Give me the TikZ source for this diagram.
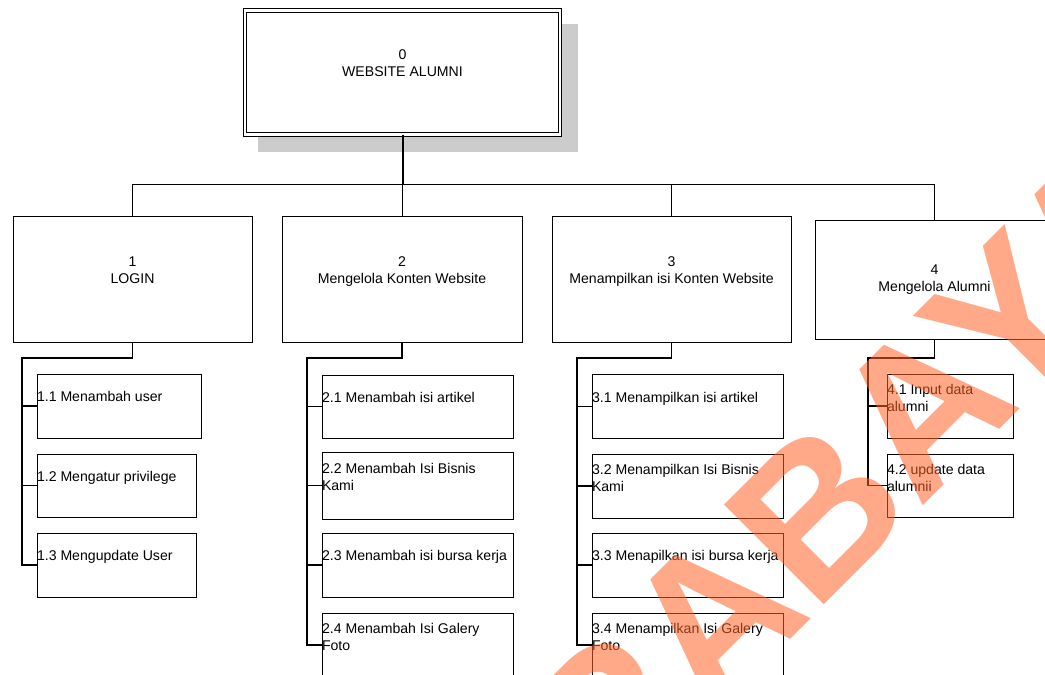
\documentclass[tikz,border=0pt]{standalone}
\usepackage{fontspec}
\setmainfont{Liberation Sans}
\definecolor{wmc}{RGB}{255,100,40}
\definecolor{shadowgray}{RGB}{204,204,204}
\begin{document}
\begin{tikzpicture}[x=1pt,y=-1pt,
  every node/.style={font=\fontsize{14.1}{17}\selectfont, text=black, inner sep=0pt, outer sep=0pt},
  boxn/.style={draw=black, line width=1pt, anchor=north west, minimum width=#1},
  boxn/.default=239pt,
  ttl/.style={anchor=north, align=center},
  lbl/.style={anchor=north west, align=left},
  conn/.style={draw=black, line width=1.3pt},
  bar/.style={draw=black, line width=1pt},
  wm/.style={text=wmc, text opacity=0.55, font=\fontsize{205}{205}\selectfont\bfseries}
]
\useasboundingbox (0,0) rectangle (1045,675);
\clip (0,0) rectangle (1045,675);
\fill[white] (0,0) rectangle (1045,675);

% ---- level 0 ----
\fill[shadowgray] (258,24) rectangle (578,152);
\node[draw=black, fill=white, line width=1pt, double, double distance=2.6pt, anchor=north west,
      minimum width=315pt, minimum height=124pt] (b0) at (245,10.7) {};
\node[ttl] (t0) at (402.5,50) {0\\WEBSITE ALUMNI};

% ---- level 1 ----
\node[boxn=239pt, minimum height=126pt] (b1) at (13,216) {};
\node[boxn=240pt, minimum height=126pt] (b2) at (282,216) {};
\node[boxn=239pt, minimum height=126.5pt] (b3) at (552,216) {};
\node[boxn=239pt, minimum height=119pt] (b4) at (815,220) {};
\node[ttl] (t1) at (b1.north |- 0,257) {1\\LOGIN};
\node[ttl] (t2) at (b2.north |- 0,257) {2\\Mengelola Konten Website};
\node[ttl] (t3) at (b3.north |- 0,257) {3\\Menampilkan isi Konten Website};
\node[ttl] (t4) at (b4.north |- 0,265) {4\\Mengelola Alumni};

\coordinate (barR) at (934.5,184);
\draw[line width=2pt] (b0.south) -- (b0.south |- barR);
\draw[bar] (b1.north) |- (barR) -- (b4.north);
\draw[bar] (b2.north) -- (b2.north |- barR);
\draw[bar] (b3.north) -- (b3.north |- barR);

% ---- column 1 ----
\node[boxn=164pt, minimum height=64pt] (s11) at (37,374) {};
\node[boxn=159pt, minimum height=63pt] (s12) at (37,454) {};
\node[boxn=159pt, minimum height=64pt] (s13) at (37,533) {};
\node[lbl] (l11) at ([yshift=-17.5pt]s11.north west) {1.1 Menambah user};
\node[lbl] (l12) at ([yshift=-17.5pt]s12.north west) {1.2 Mengatur privilege};
\node[lbl] (l13) at ([yshift=-17.5pt]s13.north west) {1.3 Mengupdate User};
\coordinate (v1) at (22,358);
\draw[conn] (b1.south) |- (v1) |- (s13.west);
\draw[conn] (v1 |- s11.west) -- (s11.west);
\draw[conn] (v1 |- s12.west) -- (s12.west);

% ---- column 2 ----
\node[boxn=191pt, minimum height=63pt] (s21) at (322,375) {};
\node[boxn=191pt, minimum height=67pt] (s22) at (322,452) {};
\node[boxn=191pt, minimum height=64pt] (s23) at (322,533) {};
\node[boxn=191pt, minimum height=64pt] (s24) at (322,613) {};
\node[lbl] (l21) at ([yshift=-17.5pt]s21.north west) {2.1 Menambah isi artikel};
\node[lbl] (l22) at ([yshift=-10.8pt]s22.north west) {2.2 Menambah Isi Bisnis\\Kami};
\node[lbl] (l23) at ([yshift=-17.5pt]s23.north west) {2.3 Menambah isi bursa kerja};
\node[lbl] (l24) at ([yshift=-10.5pt]s24.north west) {2.4 Menambah Isi Galery\\Foto};
\coordinate (v2) at (307,358);
\draw[conn] (b2.south) |- (v2) |- (s24.west);
\draw[conn] (v2 |- s21.west) -- (s21.west);
\draw[conn] (v2 |- s22.west) -- (s22.west);
\draw[conn] (v2 |- s23.west) -- (s23.west);

% ---- column 3 ----
\node[boxn=191pt, minimum height=63.5pt] (s31) at (592,374.5) {};
\node[boxn=191pt, minimum height=64pt] (s32) at (592,454) {};
\node[boxn=191pt, minimum height=64pt] (s33) at (592,533) {};
\node[boxn=191pt, minimum height=64pt] (s34) at (592,613) {};
\node[lbl] (l31) at ([yshift=-17.5pt]s31.north west) {3.1 Menampilkan isi artikel};
\node[lbl] (l32) at ([yshift=-10.5pt]s32.north west) {3.2 Menampilkan Isi Bisnis\\Kami};
\node[lbl] (l33) at ([yshift=-17.5pt]s33.north west) {3.3 Menapilkan isi bursa kerja};
\node[lbl] (l34) at ([yshift=-10.5pt]s34.north west) {3.4 Menampilkan Isi Galery\\Foto};
\coordinate (v3) at (577,358);
\draw[conn] (b3.south) |- (v3) |- (s34.west);
\draw[conn] (v3 |- s31.west) -- (s31.west);
\draw[conn] (v3 |- s32.west) -- (s32.west);
\draw[conn] (v3 |- s33.west) -- (s33.west);

% ---- column 4 ----
\node[boxn=126pt, minimum height=64pt] (s41) at (887,374) {};
\node[boxn=126pt, minimum height=63pt] (s42) at (887,454) {};
\node[lbl] (l41) at ([yshift=-10.3pt]s41.north west) {4.1 Input data\\alumni};
\node[lbl] (l42) at ([yshift=-10.3pt]s42.north west) {4.2 update data\\alumnii};
\coordinate (v4) at (868,358);
\draw[conn] (b4.south) |- (v4) |- (s42.west);
\draw[conn] (v4 |- s41.west) -- (s41.west);

% ---- watermark ----
\node[wm, rotate=45, anchor=base west] (wmark) at (404,1025) {SURABAYA};
\end{tikzpicture}
\end{document}
